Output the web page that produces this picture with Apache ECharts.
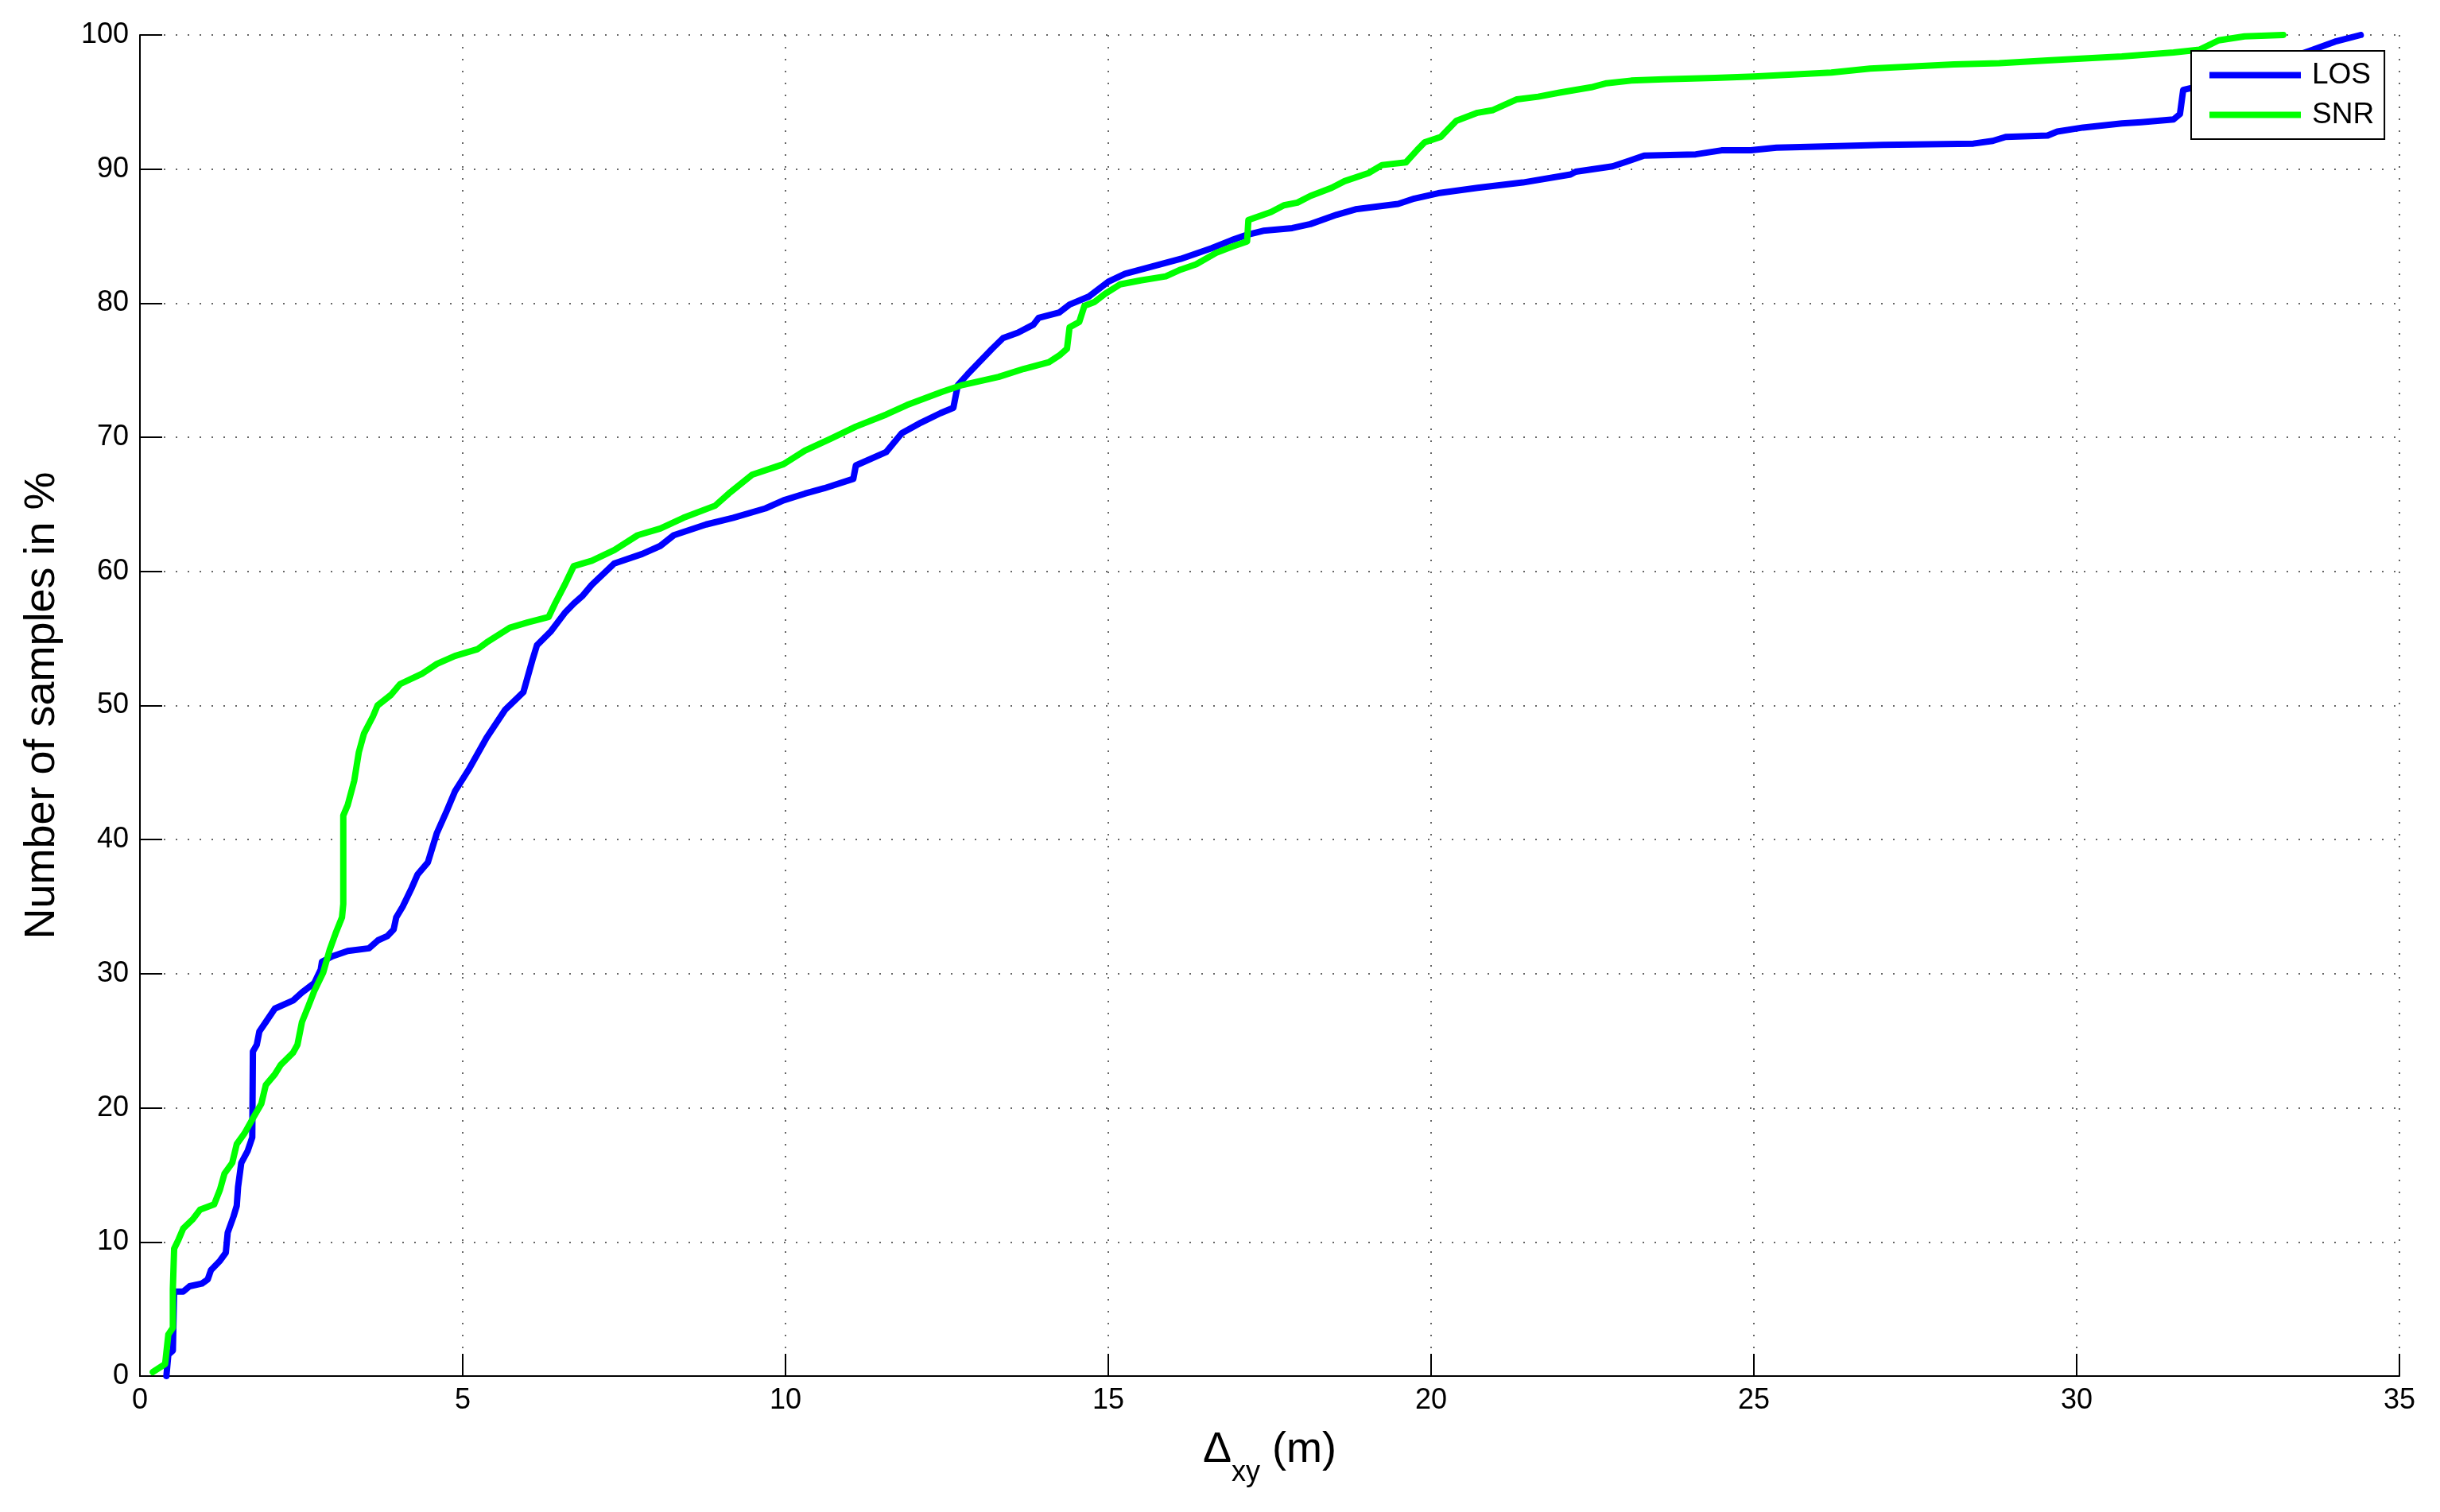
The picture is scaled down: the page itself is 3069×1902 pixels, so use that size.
<!DOCTYPE html>
<html>
<head>
<meta charset="utf-8">
<title>CDF of horizontal error</title>
<script src="https://cdn.jsdelivr.net/npm/echarts@6/dist/echarts.min.js"></script>
<style>
  html, body { margin: 0; padding: 0; background: #fff; }
  #chart { width: 3069px; height: 1902px; }
</style>
</head>
<body>
<div id="chart"></div>
<script>
// LOS curve (blue)
const losX = [0.41, 0.44, 0.51, 0.53, 0.67, 0.77, 0.96, 1.05, 1.10, 1.24, 1.33, 1.36, 1.45, 1.50, 1.52, 1.57, 1.67, 1.74, 1.75, 1.81,
  1.85, 1.95, 2.09, 2.37, 2.51, 2.70, 2.80, 2.82, 2.98, 3.22, 3.55, 3.69, 3.83, 3.93, 3.97, 4.07, 4.21, 4.30, 4.46, 4.60,
  4.74, 4.88, 5.09, 5.37, 5.66, 5.94, 6.08, 6.15, 6.36, 6.58, 6.72, 6.86, 7.00, 7.35, 7.78, 8.06, 8.27, 8.77, 9.19, 9.69,
  9.97, 10.30, 10.60, 11.05, 11.09, 11.56, 11.80, 12.10, 12.40, 12.60, 12.67, 12.82, 12.98, 13.20, 13.37, 13.60, 13.84, 13.92, 14.24, 14.40,
  14.70, 15.00, 15.26, 15.65, 16.12, 16.60, 16.91, 17.15, 17.40, 17.85, 18.13, 18.54, 18.83, 19.49, 19.74, 20.11, 20.72, 21.42, 22.16, 22.24,
  22.81, 23.06, 23.30, 24.10, 24.50, 24.95, 25.35, 26.20, 27.00, 28.40, 28.70, 28.90, 29.55, 29.70, 30.10, 30.70, 31.00, 31.50, 31.60, 31.65,
  32.00, 32.50, 33.00, 33.60, 34.00, 34.40];
const losY = [0, 1.6, 1.9, 6.3, 6.3, 6.7, 6.9, 7.2, 7.9, 8.6, 9.2, 10.7, 11.9, 12.7, 14.1, 15.9, 16.8, 17.8, 24.2, 24.7,
  25.7, 26.4, 27.4, 28.0, 28.6, 29.3, 30.3, 30.9, 31.3, 31.7, 31.9, 32.5, 32.8, 33.3, 34.2, 35.0, 36.4, 37.4, 38.3, 40.5,
  42.0, 43.6, 45.2, 47.6, 49.7, 51.0, 53.4, 54.5, 55.5, 56.9, 57.6, 58.2, 59.0, 60.6, 61.3, 61.9, 62.7, 63.5, 64.0, 64.7,
  65.3, 65.8, 66.2, 66.9, 67.9, 68.9, 70.3, 71.1, 71.8, 72.2, 73.9, 74.7, 75.5, 76.6, 77.4, 77.8, 78.4, 78.9, 79.3, 79.9,
  80.5, 81.6, 82.2, 82.7, 83.3, 84.1, 84.7, 85.1, 85.4, 85.6, 85.9, 86.6, 87.0, 87.4, 87.8, 88.2, 88.6, 89.0, 89.6, 89.8,
  90.2, 90.6, 91.0, 91.1, 91.4, 91.4, 91.6, 91.7, 91.8, 91.9, 92.1, 92.4, 92.5, 92.8, 93.1, 93.4, 93.5, 93.7, 94.1, 95.9,
  96.3, 97.0, 97.8, 98.8, 99.5, 100];

// SNR curve (green)
const snrX = [0.20, 0.39, 0.44, 0.51, 0.51, 0.53, 0.60, 0.67, 0.82, 0.93, 1.15, 1.24, 1.31, 1.43, 1.50, 1.62, 1.76, 1.88, 1.95, 2.09,
  2.18, 2.37, 2.44, 2.51, 2.61, 2.70, 2.84, 2.94, 3.03, 3.13, 3.15, 3.15, 3.22, 3.32, 3.39, 3.47, 3.61, 3.68, 3.89, 4.03,
  4.38, 4.60, 4.88, 5.23, 5.37, 5.73, 6.01, 6.33, 6.43, 6.58, 6.72, 7.00, 7.35, 7.71, 8.06, 8.42, 8.91, 9.12, 9.48, 9.97,
  10.30, 10.70, 11.09, 11.56, 11.88, 12.43, 12.74, 13.30, 13.69, 14.08, 14.24, 14.36, 14.40, 14.55, 14.63, 14.79, 14.95, 15.18, 15.50, 15.89,
  16.12, 16.36, 16.67, 16.91, 17.15, 17.17, 17.52, 17.72, 17.93, 18.13, 18.46, 18.66, 19.03, 19.24, 19.61, 19.78, 19.90, 20.15, 20.39, 20.72,
  20.96, 21.33, 21.66, 21.99, 22.48, 22.72, 23.10, 23.60, 24.40, 25.00, 26.20, 26.80, 28.10, 28.80, 29.55, 30.70, 31.50, 31.90, 32.20, 32.60,
  33.20];
const snrY = [0.3, 0.9, 3.1, 3.6, 6.5, 9.5, 10.2, 11.0, 11.7, 12.4, 12.8, 13.9, 15.1, 15.9, 17.3, 18.1, 19.3, 20.3, 21.7, 22.5,
  23.2, 24.1, 24.7, 26.4, 27.6, 28.7, 30.1, 31.8, 33.0, 34.2, 35.2, 41.8, 42.6, 44.4, 46.5, 47.9, 49.2, 50.0, 50.8, 51.6,
  52.4, 53.1, 53.7, 54.2, 54.7, 55.8, 56.2, 56.6, 57.6, 59.0, 60.4, 60.8, 61.6, 62.7, 63.2, 64.0, 64.9, 65.8, 67.2, 68.0,
  69.0, 69.9, 70.8, 71.7, 72.4, 73.4, 73.9, 74.5, 75.1, 75.6, 76.1, 76.6, 78.2, 78.6, 79.8, 80.1, 80.7, 81.4, 81.7, 82.0,
  82.5, 82.9, 83.75, 84.2, 84.6, 86.2, 86.8, 87.3, 87.5, 88.0, 88.6, 89.1, 89.7, 90.3, 90.5, 91.4, 92.0, 92.4, 93.6, 94.2,
  94.4, 95.2, 95.4, 95.7, 96.1, 96.4, 96.6, 96.7, 96.8, 96.9, 97.2, 97.5, 97.8, 97.9, 98.1, 98.4, 98.7, 98.9, 99.6, 99.9,
  100];

const seriesNames = ['LOS', 'SNR'];
const seriesColors = ['#0000ff', '#00ff00'];

const fontFamily = '"Liberation Sans", Arial, Helvetica, sans-serif';

function pairs(xs, ys) {
  return xs.map((x, i) => [x, ys[i]]);
}

const chart = echarts.init(document.getElementById('chart'));

const gridLine = { show: true, lineStyle: { color: '#666', width: 2, type: [2, 13] } };

chart.setOption({
  animation: false,
  backgroundColor: '#fff',
  textStyle: { fontFamily: fontFamily },
  grid: { left: 176, right: 51, top: 44, bottom: 171, containLabel: false },
  legend: {
    orient: 'vertical',
    left: 2756,
    top: 64,
    padding: [12, 13, 12, 23],
    itemWidth: 115,
    itemHeight: 8,
    itemGap: 13,
    icon: 'rect',
    backgroundColor: '#fff',
    borderColor: '#000',
    borderWidth: 2,
    borderRadius: 0,
    data: seriesNames,
    textStyle: { fontSize: 37, color: '#000', fontFamily: fontFamily, padding: [0, 0, 0, 9] }
  },
  xAxis: {
    type: 'value',
    min: 0,
    max: 35,
    interval: 5,
    // Δ with subscript xy
    name: '{d|Δ}{s|xy}{d| (m)}',
    nameLocation: 'middle',
    nameGap: 66,
    nameTextStyle: {
      color: '#000',
      fontSize: 54,
      fontFamily: fontFamily,
      rich: {
        d: { fontSize: 54, lineHeight: 54, verticalAlign: 'top', color: '#000', fontFamily: fontFamily },
        s: { fontSize: 36, lineHeight: 74, verticalAlign: 'bottom', color: '#000', fontFamily: fontFamily }
      }
    },
    axisLine: { show: true, onZero: false, lineStyle: { color: '#000', width: 2 } },
    axisTick: { show: true, inside: true, length: 28, lineStyle: { color: '#000', width: 2 } },
    axisLabel: { color: '#000', fontSize: 36, margin: 13, fontFamily: fontFamily },
    splitLine: gridLine
  },
  yAxis: {
    type: 'value',
    min: 0,
    max: 100,
    interval: 10,
    name: 'Number of samples in %',
    nameLocation: 'middle',
    nameGap: 96,
    nameTextStyle: { color: '#000', fontSize: 54, fontFamily: fontFamily },
    axisLine: { show: true, onZero: false, lineStyle: { color: '#000', width: 2 } },
    axisTick: { show: true, inside: true, length: 28, lineStyle: { color: '#000', width: 2 } },
    axisLabel: { color: '#000', fontSize: 36, margin: 14, fontFamily: fontFamily },
    splitLine: gridLine
  },
  series: [
    {
      name: seriesNames[0],
      type: 'line',
      data: pairs(losX, losY),
      symbol: 'none',
      showSymbol: false,
      color: seriesColors[0],
      lineStyle: { color: seriesColors[0], width: 8, join: 'round', cap: 'round' }
    },
    {
      name: seriesNames[1],
      type: 'line',
      data: pairs(snrX, snrY),
      symbol: 'none',
      showSymbol: false,
      color: seriesColors[1],
      lineStyle: { color: seriesColors[1], width: 8, join: 'round', cap: 'round' }
    }
  ]
});
</script>
</body>
</html>
